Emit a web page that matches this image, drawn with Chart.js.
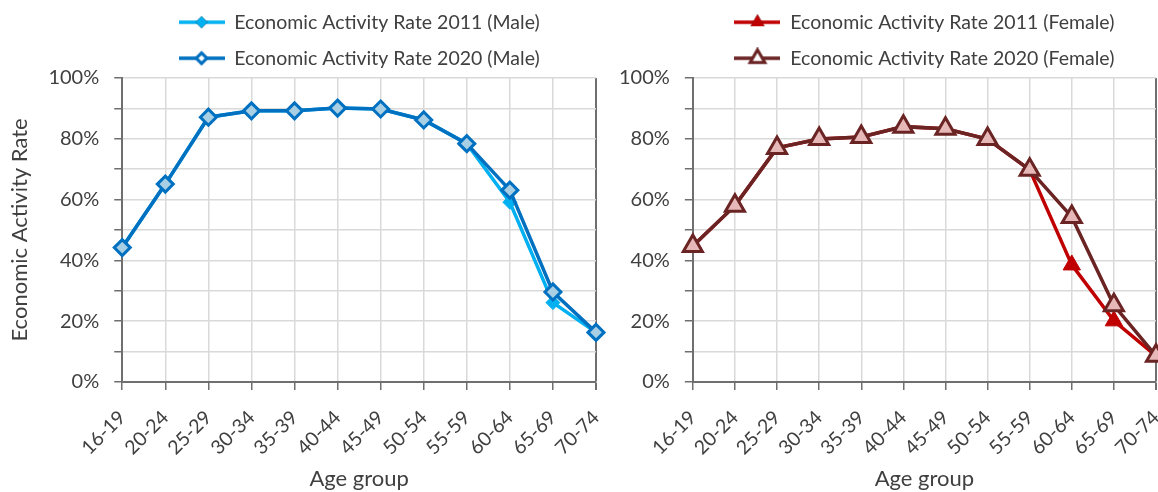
<!DOCTYPE html>
<html>
<head>
<meta charset="utf-8">
<script src="https://cdn.jsdelivr.net/npm/chart.js@4"></script>
<style>
  body { margin: 0; background: #fff; width: 1158px; height: 492px; overflow: hidden; position: relative; }
  .win { position: absolute; top: 0; height: 492px; overflow: hidden; }
  #left { left: 0; width: 608px; }
  #right { left: 608px; width: 550px; }
  #left .inner { width: 640px; height: 492px; }
  #right .inner { width: 600px; height: 492px; }
</style>
</head>
<body>
<div id="left" class="win"><div class="inner"><canvas id="maleChart"></canvas></div></div>
<div id="right" class="win"><div class="inner"><canvas id="femaleChart"></canvas></div></div>
<script>
const ageGroups = ['16-19', '20-24', '25-29', '30-34', '35-39', '40-44', '45-49', '50-54', '55-59', '60-64', '65-69', '70-74'];
const male2011 = [44.2, 65.1, 87.1, 89.2, 89.2, 90.1, 89.8, 86.2, 78.4, 59.1, 26.1, 16.3];
const male2020 = [44.2, 65.1, 87.1, 89.2, 89.2, 90.1, 89.8, 86.2, 78.4, 63.1, 29.6, 16.3];
const female2011 = [44.7, 58.0, 77.0, 79.9, 80.6, 84.0, 83.3, 79.9, 69.8, 38.5, 20.1, 8.6];
const female2020 = [44.7, 58.0, 77.0, 79.9, 80.6, 84.0, 83.3, 79.9, 69.8, 54.3, 25.2, 8.6];
const yTicks = [0, 20, 40, 60, 80, 100];

const FONT = 'Lato';
const TEXT = '#404040';
const GRID = '#d9d9d9';
const AXIS = '#6f6f6f';

// little line+marker picture for the legend
function legendIcon(color, fill, style, r, bw) {
  const c = document.createElement('canvas');
  c.width = 46; c.height = 22;
  const g = c.getContext('2d');
  g.strokeStyle = color;
  g.lineWidth = 3.5;
  g.beginPath(); g.moveTo(0, 11); g.lineTo(46, 11); g.stroke();
  Chart.helpers.drawPoint(g, { pointStyle: style, radius: r, borderWidth: bw, rotation: 0 }, 23, 11);
  g.fillStyle = fill;
  g.fill();
  g.lineWidth = bw;
  if (bw) g.stroke();
  return c;
}

function makeChart(id, datasets, showTitle, pad) {
  new Chart(document.getElementById(id), {
    type: 'line',
    data: { labels: ageGroups, datasets },
    options: {
      responsive: true,
      maintainAspectRatio: false,
      animation: false,
      layout: { padding: pad },
      plugins: {
        tooltip: { enabled: false },
        legend: {
          position: 'top',
          fullSize: false,
          labels: {
            usePointStyle: true,
            pointStyleWidth: 46,
            padding: 16.5,
            color: TEXT,
            font: { family: FONT, size: 19.5 },
            sort: (a, b) => a.datasetIndex - b.datasetIndex,
            generateLabels: chart => chart.data.datasets.map((ds, i) => ({
              text: ds.label,
              datasetIndex: i,
              pointStyle: ds.legendIcon,
              fontColor: TEXT,
              lineWidth: 0,
              strokeStyle: 'transparent',
              fillStyle: 'transparent'
            }))
          }
        }
      },
      scales: {
        x: {
          offset: false,
          grid: {
            offset: false,
            color: ctx => ctx.index === ageGroups.length - 1 ? AXIS : GRID,
            lineWidth: ctx => ctx.index === ageGroups.length - 1 ? 2 : 1.5,
            tickColor: AXIS,
            tickLength: 8
          },
          border: { color: AXIS, width: 2 },
          ticks: { color: TEXT, font: { family: FONT, size: 19.5 }, minRotation: 45, maxRotation: 45, padding: 16, autoSkip: false },
          title: { display: true, text: 'Age group', color: TEXT, font: { family: FONT, size: 22 }, padding: { top: -10, bottom: 0 } }
        },
        y: {
          min: 0,
          max: 100,
          grid: { color: GRID, lineWidth: 1.5, tickColor: AXIS, tickLength: 8 },
          border: { color: AXIS, width: 2 },
          ticks: {
            stepSize: 10,
            color: TEXT,
            font: { family: FONT, size: 20 },
            padding: 15,
            callback: v => yTicks.includes(v) ? v + '%' : ''
          },
          title: { display: showTitle, text: 'Economic Activity Rate', color: TEXT, font: { family: FONT, size: 22 }, padding: { top: 7, bottom: 0 } }
        }
      }
    }
  });
}

makeChart('maleChart', [
  {
    label: 'Economic Activity Rate 2011 (Male)',
    data: male2011,
    borderColor: '#00b0f0',
    backgroundColor: '#00b0f0',
    borderWidth: 3.5,
    pointStyle: 'rectRot',
    pointRadius: 7,
    pointBorderWidth: 1,
    pointBackgroundColor: '#00b0f0',
    pointBorderColor: '#00b0f0',
    order: 1,
    legendIcon: legendIcon('#00b0f0', '#00b0f0', 'rectRot', 6, 0)
  },
  {
    label: 'Economic Activity Rate 2020 (Male)',
    data: male2020,
    borderColor: '#0070c0',
    backgroundColor: '#a9cfe4',
    borderWidth: 3.5,
    pointStyle: 'rectRot',
    pointRadius: 8,
    pointBorderWidth: 3,
    pointBackgroundColor: '#a9cfe4',
    pointBorderColor: '#0070c0',
    order: 0,
    legendIcon: legendIcon('#0070c0', '#ffffff', 'rectRot', 5, 2.5)
  }
], true, { top: -4, left: 0, right: 44, bottom: 0 });

makeChart('femaleChart', [
  {
    label: 'Economic Activity Rate 2011 (Female)',
    data: female2011,
    borderColor: '#c00000',
    backgroundColor: '#c00000',
    borderWidth: 3.5,
    pointStyle: 'triangle',
    pointRadius: 10,
    pointBorderWidth: 1,
    pointBackgroundColor: '#c00000',
    pointBorderColor: '#c00000',
    order: 1,
    legendIcon: legendIcon('#c00000', '#c00000', 'triangle', 8, 0)
  },
  {
    label: 'Economic Activity Rate 2020 (Female)',
    data: female2020,
    borderColor: '#6b2424',
    backgroundColor: '#e6b8b7',
    borderWidth: 3.5,
    pointStyle: 'triangle',
    pointRadius: 11,
    pointBorderWidth: 3,
    pointBackgroundColor: '#e6b8b7',
    pointBorderColor: '#6b2424',
    order: 0,
    legendIcon: legendIcon('#6b2424', '#ffffff', 'triangle', 8, 2.5)
  }
], false, { top: -4, left: -4, right: 52, bottom: 0 });
</script>
</body>
</html>
